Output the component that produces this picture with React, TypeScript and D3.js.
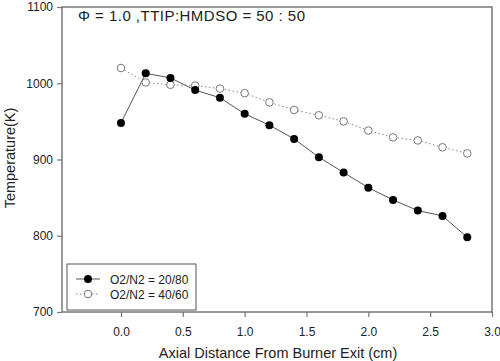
import React, { useRef, useEffect } from 'react';
import * as d3 from 'd3';

const xs = [0.0, 0.2, 0.4, 0.6, 0.8, 1.0, 1.2, 1.4, 1.6, 1.8, 2.0, 2.2, 2.4, 2.6, 2.8];
const temp2080 = [948, 1013, 1007, 991, 981, 960, 945, 927, 903, 883, 863, 847, 833, 826, 798];
const temp4060 = [1020, 1001, 998, 997, 993, 987, 975, 965, 958, 950, 938, 929, 925, 916, 908];
const xTicks = [0.0, 0.5, 1.0, 1.5, 2.0, 2.5, 3.0];
const yTicks = [700, 800, 900, 1000, 1100];
const seriesNames = ['O2/N2 = 20/80', 'O2/N2 = 40/60'];

const App = () => {
  const ref = useRef<SVGSVGElement>(null);

  useEffect(() => {
    const svg = d3.select(ref.current);
    svg.selectAll('*').remove();
    const width = 500;
    const height = 361;
    const left = 62, right = 492, top = 7, bottom = 312;
    const font = '"Liberation Sans", Arial, sans-serif';

    svg.attr('width', width).attr('height', height).style('font-family', font);

    const x = d3.scaleLinear().domain([-0.477, 3.0]).range([left, right]);
    const y = d3.scaleLinear().domain([700, 1100]).range([bottom, top]);

    // frame
    svg.append('rect')
      .attr('x', left).attr('y', top)
      .attr('width', right - left).attr('height', bottom - top)
      .attr('fill', 'white').attr('stroke', '#777').attr('stroke-width', 1.5);

    const xAxis = svg.append('g')
      .attr('transform', `translate(0,${bottom})`)
      .call(d3.axisBottom(x).tickValues(xTicks).tickSize(5).tickPadding(10).tickFormat(d3.format('.1f')));
    const yAxis = svg.append('g')
      .attr('transform', `translate(${left},0)`)
      .call(d3.axisLeft(y).tickValues(yTicks).tickSize(5).tickPadding(4).tickFormat(d3.format('d')));
    [xAxis, yAxis].forEach((a) => {
      a.select('.domain').remove();
      a.selectAll('line').attr('stroke', '#777').attr('stroke-width', 1.2);
      a.selectAll('text').attr('fill', '#222').style('font-size', '12px').style('font-family', font);
    });

    // series
    const line = d3.line<number>().x((d, i) => x(xs[i])).y((d) => y(d));
    svg.append('path').datum(temp4060).attr('d', line)
      .attr('fill', 'none').attr('stroke', '#888').attr('stroke-width', 1).attr('stroke-dasharray', '1.5,2.5');
    svg.append('path').datum(temp2080).attr('d', line)
      .attr('fill', 'none').attr('stroke', '#555').attr('stroke-width', 1);

    svg.selectAll('.open').data(temp4060).enter().append('circle')
      .attr('class', 'open')
      .attr('cx', (d, i) => x(xs[i])).attr('cy', (d) => y(d)).attr('r', 3.8)
      .attr('fill', 'white').attr('stroke', '#777').attr('stroke-width', 1);
    svg.selectAll('.filled').data(temp2080).enter().append('circle')
      .attr('class', 'filled')
      .attr('cx', (d, i) => x(xs[i])).attr('cy', (d) => y(d)).attr('r', 4)
      .attr('fill', 'black');

    // title
    svg.append('text')
      .attr('x', 78).attr('y', 21)
      .attr('textLength', 227)
      .style('font-size', '15px').attr('fill', '#222')
      .text('\u03A6 = 1.0 ,TTIP:HMDSO = 50 : 50');

    // axis labels
    svg.append('text')
      .attr('x', 278).attr('y', 358)
      .attr('text-anchor', 'middle')
      .style('font-size', '14.5px').attr('fill', '#222')
      .text('Axial Distance From Burner Exit (cm)');
    svg.append('text')
      .attr('transform', `translate(15,158) rotate(-90)`)
      .attr('text-anchor', 'middle')
      .style('font-size', '14.5px').attr('fill', '#222')
      .text('Temperature(K)');

    // legend
    const legend = svg.append('g').attr('transform', 'translate(67,264)');
    legend.append('rect')
      .attr('width', 129).attr('height', 46)
      .attr('fill', 'white').attr('stroke', '#555').attr('stroke-width', 1);
    seriesNames.forEach((name, i) => {
      const g = legend.append('g').attr('transform', `translate(0,${15 + i * 15})`);
      g.append('line').attr('x1', 9).attr('x2', 33)
        .attr('stroke', i === 0 ? '#555' : '#888')
        .attr('stroke-dasharray', i === 0 ? null : '1.5,2.5');
      g.append('circle').attr('cx', 21).attr('r', i === 0 ? 4 : 3.8)
        .attr('fill', i === 0 ? 'black' : 'white')
        .attr('stroke', i === 0 ? 'none' : '#777');
      g.append('text').attr('x', 43).attr('y', 4.5)
        .style('font-size', '12px').attr('fill', '#222')
        .text(name);
    });
  }, []);

  return <svg ref={ref} style={{ position: 'absolute', left: 0, top: 0 }}></svg>;
};

export default App;
